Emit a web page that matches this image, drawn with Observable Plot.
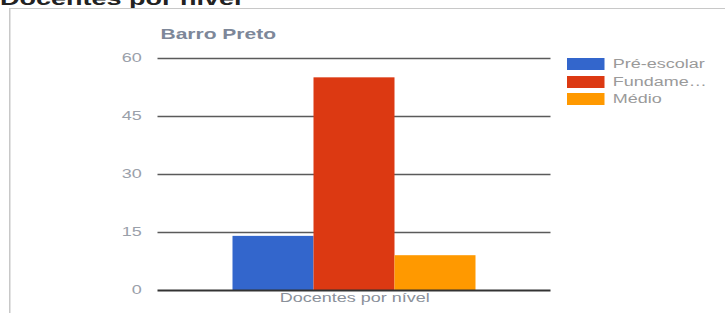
<!DOCTYPE html>
<html>
<head>
<meta charset="utf-8">
<script src="https://cdn.jsdelivr.net/npm/d3@7"></script>
<script src="https://cdn.jsdelivr.net/npm/@observablehq/plot@0.6"></script>
<style>
  html, body { margin: 0; padding: 0; background: #fff; overflow: hidden; }
  body { width: 725px; height: 313px; }
  #stage {
    position: relative; width: 483.33px; height: 313px;
    transform: scale(1.5, 1); transform-origin: 0 0;
    font-family: "Liberation Sans", Arial, sans-serif;
  }
  #pagetitle {
    position: absolute; left: 0; top: -10px; font-size: 18px; line-height: 18px;
    font-weight: bold; color: #222; white-space: nowrap;
  }
  #frame {
    position: absolute; left: 6px; top: 8px; width: 1000px; height: 400px;
    border: 1px solid #c8c8c8;
  }
  #charttitle {
    position: absolute; left: 107px; top: 27px; font-size: 14px; line-height: 14px;
    font-weight: bold; color: #7d8799; white-space: nowrap;
  }
  #plot { position: absolute; left: 0; top: 0; }
  #legend { position: absolute; left: 378px; top: 58px; }
  .li { position: absolute; left: 0; height: 12px; white-space: nowrap; }
  .sw { position: absolute; left: 0; top: 0; width: 25.3px; height: 12px; }
  .lt { position: absolute; left: 30.5px; top: -1px; font-size: 12px; line-height: 14px; color: #9a9a9a; }
</style>
</head>
<body>
<div id="stage">
  <div id="pagetitle">Docentes por nível</div>
  <div id="frame"></div>
  <div id="charttitle">Barro Preto</div>
  <div id="plot"></div>
  <div id="legend"></div>
</div>
<script>
const pageTitle = "Docentes por nível";
const chartTitle = "Barro Preto";
const categories = ["Docentes por nível"];
const series = ["Pré-escolar", "Fundamental", "Médio"];
const legendLabels = ["Pré-escolar", "Fundame…", "Médio"];
const values = [14, 55, 9];
const colors = ["#3366cc", "#dc3912", "#ff9900"];
const yTicks = [0, 15, 30, 45, 60];

const data = series.map((s, i) => ({category: categories[0], series: s, value: values[i]}));

const chart = Plot.plot({
  width: 483,
  height: 313,
  marginLeft: 105,
  marginRight: 116,
  marginTop: 58,
  marginBottom: 23,
  style: {fontFamily: "Liberation Sans, Arial, sans-serif", color: "#9a9a9a", background: "transparent"},
  x: {domain: series, paddingInner: 0, paddingOuter: 0.92, axis: null},
  y: {domain: [0, 60], axis: null},
  color: {domain: series, range: colors},
  marks: [
    Plot.ruleY(yTicks.filter(d => d !== 0), {stroke: "#5a5a5a", strokeWidth: 1.4}),
    Plot.barY(data, {x: "series", y: "value", fill: "series", inset: 0}),
    Plot.ruleY([0], {stroke: "#333", strokeWidth: 2}),
    Plot.axisY({ticks: yTicks, tickSize: 0, tickPadding: 11, fontSize: 12, fill: "#9aa0aa", label: null}),
    Plot.text(categories, {frameAnchor: "bottom", dy: 11, text: d => d, fontSize: 12, fill: "#8a909a"})
  ]
});
document.getElementById("plot").appendChild(chart);

const legend = document.getElementById("legend");
legendLabels.forEach((lab, i) => {
  const row = document.createElement("div");
  row.className = "li";
  row.style.top = (i * 17.5) + "px";
  const sw = document.createElement("div");
  sw.className = "sw";
  sw.style.background = colors[i];
  const t = document.createElement("div");
  t.className = "lt";
  t.textContent = lab;
  row.appendChild(sw);
  row.appendChild(t);
  legend.appendChild(row);
});
</script>
</body>
</html>
